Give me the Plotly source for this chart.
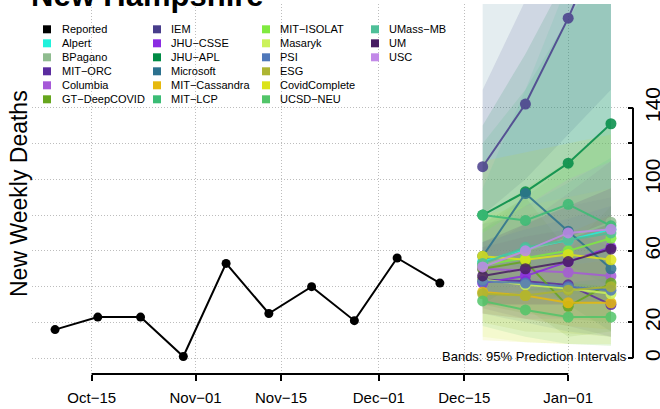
import plotly.graph_objects as go

# ---------------- data ----------------
report_dates = ["2020-10-09", "2020-10-16", "2020-10-23", "2020-10-30", "2020-11-06",
                "2020-11-13", "2020-11-20", "2020-11-27", "2020-12-04", "2020-12-11"]
reported = [16, 23, 23, 1, 53, 25, 40, 21, 56, 42]

forecast_dates = ["2020-12-18", "2020-12-25", "2021-01-01", "2021-01-08"]

models = ["Alpert", "BPagano", "MIT\u2212ORC", "Columbia", "GT\u2212DeepCOVID",
          "IEM", "JHU\u2212CSSE", "JHU\u2212APL", "Microsoft", "MIT\u2212Cassandra", "MIT\u2212LCP",
          "MIT\u2212ISOLAT", "Masaryk", "PSI", "ESG", "CovidComplete", "UCSD\u2212NEU",
          "UMass\u2212MB", "UM", "USC"]

model_colors = ["#20F2DC", "#8FBC8F", "#5B2C9F", "#A659D8", "#66A61E",
                "#483D8B", "#8A2BE2", "#008B45", "#2C718E", "#E6B90E", "#3BBC75",
                "#80EA3F", "#CBF25A", "#4F78BA", "#ADB532", "#DCE319", "#52C569",
                "#4EBF98", "#481D63", "#C289E8"]

# point forecasts (Dec-18, Dec-25, Jan-01, Jan-08), one row per model
point_forecast = [
    [54, 61, 66, 72],     # Alpert
    [52, 60, 67, 76],     # BPagano
    [44, 43, 41, 30],     # MIT-ORC
    [50, 49, 48, 46],     # Columbia
    [50, 54, 29, 42],     # GT-DeepCOVID
    [107, 142, 190, 245], # IEM
    [42, 46, 54, 62],     # JHU-CSSE
    [80, 93, 109, 131],   # JHU-APL
    [57, 92, 71, 50],     # Microsoft
    [37, 35, 31, 31],     # MIT-Cassandra
    [80, 77, 86, 74],     # MIT-LCP
    [52, 56, 60, 67],     # MIT-ISOLAT
    [44, 41, 39, 36],     # Masaryk
    [43, 42, 40, 38],     # PSI
    [36, 35, 38, 40],     # ESG
    [57, 55, 58, 55],     # CovidComplete
    [32, 27, 23, 23],     # UCSD-NEU
    [53, 62, 66, 70],     # UMass-MB
    [46, 50, 54, 61],     # UM
    [51, 60, 70, 72],     # USC
]

# 95% prediction interval bounds
lower_95 = [
    [38, 38, 36, 35], [35, 35, 33, 32], [28, 22, 18, 12], [30, 25, 22, 20],
    [30, 28, 12, 15], [80, 100, 125, 150], [25, 22, 22, 24], [55, 60, 65, 72],
    [30, 45, 30, 15], [25, 22, 18, 16], [55, 50, 52, 40], [30, 25, 22, 20],
    [12, 9, 8, 7], [25, 20, 15, 12], [20, 15, 14, 12], [10, 9, 8, 8],
    [18, 12, 8, 7], [35, 38, 38, 38], [30, 30, 30, 32], [35, 38, 42, 40],
]
upper_95 = [
    [72, 85, 98, 112], [72, 90, 108, 130], [62, 68, 72, 62], [75, 80, 85, 90],
    [75, 90, 60, 85], [150, 200, 260, 340], [62, 75, 92, 110], [130, 170, 215, 270],
    [210, 240, 250, 260], [50, 52, 52, 55], [120, 150, 190, 225], [78, 95, 110, 130],
    [80, 85, 90, 95], [65, 72, 78, 85], [55, 60, 70, 80], [110, 115, 120, 125],
    [48, 45, 42, 45], [95, 150, 210, 270], [65, 75, 85, 95], [70, 85, 100, 110],
]

x_tick_vals = ["2020-10-15", "2020-11-01", "2020-11-15", "2020-12-01", "2020-12-15", "2021-01-01"]
x_tick_text = ["Oct\u221215", "Nov\u221201", "Nov\u221215", "Dec\u221201", "Dec\u221215", "Jan\u221201"]
y_tick_vals = [0, 20, 40, 60, 80, 100, 120, 140]
y_tick_text = ["0", "20", "", "60", "", "100", "", "140"]

# ---------------- layout geometry ----------------
W, H = 660, 409
ML, MR, MT, MB = 32, 27, 4, 35
PW, PH = W - ML - MR, H - MT - MB
FONT = "Liberation Sans, Arial, Helvetica, sans-serif"


def px_x(p):
    return (p - ML) / PW


def px_y(p):
    return (H - MB - p) / PH


def rgba(h, a):
    h = h.lstrip("#")
    r, g, b = int(h[0:2], 16), int(h[2:4], 16), int(h[4:6], 16)
    return f"rgba({r},{g},{b},{a})"


fig = go.Figure()

# prediction interval bands
for name, col, lo, hi in zip(models, model_colors, lower_95, upper_95):
    fig.add_trace(go.Scatter(
        x=forecast_dates + forecast_dates[::-1],
        y=hi + lo[::-1],
        fill="toself", fillcolor=rgba(col, 0.13),
        line=dict(width=0), mode="lines",
        hoverinfo="skip", showlegend=False))

# reported series
fig.add_trace(go.Scatter(
    x=report_dates, y=reported, mode="lines+markers",
    line=dict(color="black", width=2),
    marker=dict(color="black", size=9),
    name="Reported", showlegend=False))

# forecast lines
for name, col, vals in zip(models, model_colors, point_forecast):
    fig.add_trace(go.Scatter(
        x=forecast_dates, y=vals, mode="lines+markers",
        line=dict(color=col, width=2),
        marker=dict(color=col, size=11),
        opacity=0.85, name=name, showlegend=False))

# ---------------- manual legend ----------------
legend_names = ["Reported"] + models
legend_colors = ["#000000"] + model_colors
swatch_x = [43, 153, 262, 371]
text_x = [62, 171, 280, 389]
shapes = []
annotations = []
for i, (nm, col) in enumerate(zip(legend_names, legend_colors)):
    c, r = i // 6, i % 6
    cy = 29.3 + 14 * r
    shapes.append(dict(type="rect", xref="paper", yref="paper",
                       x0=px_x(swatch_x[c]), x1=px_x(swatch_x[c] + 8),
                       y0=px_y(cy + 4), y1=px_y(cy - 4),
                       fillcolor=col, line=dict(width=0)))
    annotations.append(dict(text=nm, xref="paper", yref="paper",
                            x=px_x(text_x[c] - 2), y=px_y(cy), xanchor="left", yanchor="middle",
                            showarrow=False, font=dict(family=FONT, size=11, color="black")))

# axis lines (R style: spanning first to last tick)
shapes.append(dict(type="line", xref="x", yref="paper", x0=x_tick_vals[0], x1=x_tick_vals[-1],
                   y0=0, y1=0, line=dict(color="black", width=2)))
shapes.append(dict(type="line", xref="paper", yref="y", x0=1, x1=1,
                   y0=y_tick_vals[0], y1=y_tick_vals[-1], line=dict(color="black", width=2)))

annotations.append(dict(text="<b>New Hampshire</b>", xref="paper", yref="paper",
                        x=px_x(29), y=px_y(15), xanchor="left", yanchor="bottom",
                        showarrow=False, font=dict(family=FONT, size=31, color="black")))
annotations.append(dict(text="New Weekly Deaths", xref="paper", yref="paper",
                        x=px_x(19), y=px_y(194), xanchor="center", yanchor="middle",
                        textangle=-90, showarrow=False,
                        font=dict(family=FONT, size=23, color="black")))
annotations.append(dict(text="Bands: 95% Prediction Intervals", xref="paper", yref="paper",
                        x=px_x(629), y=px_y(356), xanchor="right", yanchor="middle",
                        showarrow=False, font=dict(family=FONT, size=13, color="black")))

GRID = dict(showgrid=True, gridcolor="#BDBDBD", griddash="1px,2px", gridwidth=1)

fig.update_layout(
    width=W, height=H,
    margin=dict(l=ML, r=MR, t=MT, b=MB, pad=0, autoexpand=False),
    paper_bgcolor="white", plot_bgcolor="white",
    font=dict(family=FONT, color="black"),
    showlegend=False,
    shapes=shapes, annotations=annotations,
    xaxis=dict(type="date", domain=[0, (628 - ML) / PW], automargin=False,
               range=["2020-10-05 05:30", "2021-01-10 19:00"],
               tickmode="array", tickvals=x_tick_vals, ticktext=x_tick_text,
               tickfont=dict(size=15, family=FONT, color="black"),
               ticks="outside", ticklen=6, tickwidth=2, tickcolor="black",
               ticklabelstandoff=4,
               showline=False, zeroline=False, **GRID),
    yaxis=dict(range=[-8.8, 197.9], side="right", anchor="free", position=1,
               automargin=False,
               tickmode="array", tickvals=y_tick_vals, ticktext=y_tick_text,
               tickfont=dict(size=21, family=FONT, color="black"),
               tickangle=-90, ticklabelstandoff=5,
               ticks="inside", ticklen=5, tickwidth=2, tickcolor="black",
               showline=False, zeroline=False, **GRID),
)

fig.write_html("out.html",
               config={"displayModeBar": False, "staticPlot": True},
               post_script="document.body.style.margin='0';document.body.style.overflow='hidden';")
